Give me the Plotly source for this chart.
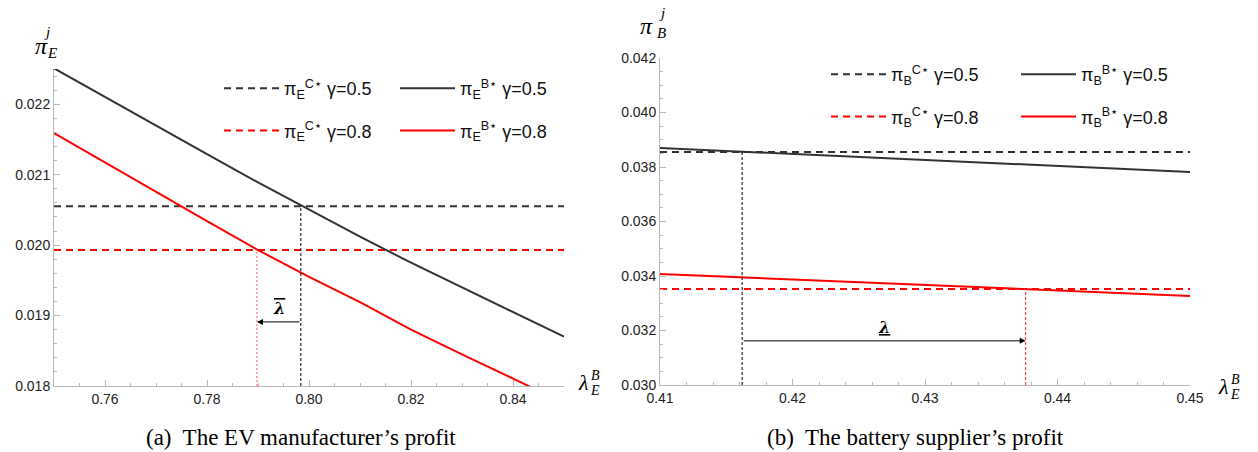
import plotly.graph_objects as go

# ---------------- data: (a) EV manufacturer's profit ----------------
lam_a = [0.75, 0.76, 0.77, 0.78, 0.79, 0.80, 0.81, 0.82, 0.83, 0.84, 0.85]
piE_B_g05 = [0.02251, 0.02210, 0.02169, 0.02129, 0.02089, 0.02050, 0.02012, 0.01975, 0.01940, 0.01905, 0.01870]
piE_B_g08 = [0.02159, 0.02117, 0.02075, 0.02034, 0.01993, 0.01955, 0.01919, 0.01880, 0.01845, 0.01810, 0.01776]
piE_C_g05 = 0.02055
piE_C_g08 = 0.01993
lam_bar_g05 = 0.7984
lam_bar_g08 = 0.7898
arrow_a_y = 0.01891

# ---------------- data: (b) battery supplier's profit ----------------
lam_b = [0.41, 0.42, 0.43, 0.44, 0.45]
piB_B_g05 = [0.03870, 0.03848, 0.03826, 0.03804, 0.03782]
piB_B_g08 = [0.03407, 0.03387, 0.03367, 0.03347, 0.03327]
piB_C_g05 = 0.03855
piB_C_g08 = 0.03352
lam_und_g05 = 0.4162
lam_und_g08 = 0.4376
arrow_b_y = 0.03162

# tick labels
xt_a = [0.76, 0.78, 0.80, 0.82, 0.84]
yt_a = [0.018, 0.019, 0.020, 0.021, 0.022]
xt_b = [0.41, 0.42, 0.43, 0.44, 0.45]
yt_b = [0.030, 0.032, 0.034, 0.036, 0.038, 0.040, 0.042]

BLACK = "#333333"
RED = "#ff0000"
W, H = 1258, 452

fig = go.Figure()

def px(v):
    return v / W

def py(v):
    return 1 - v / H

# ---- left panel ----
xr_a = [lam_a[0], lam_a[-1]]
fig.add_trace(go.Scatter(x=xr_a, y=[piE_C_g05] * 2, mode="lines",
                         line=dict(color=BLACK, width=2, dash="7px,5px"),
                         name="π<sub>E</sub><sup>C⋆</sup> γ=0.5", legend="legend", legendgroup="a1",
                         xaxis="x", yaxis="y"))
fig.add_trace(go.Scatter(x=xr_a, y=[piE_C_g08] * 2, mode="lines",
                         line=dict(color=RED, width=2, dash="7px,5px"),
                         name="π<sub>E</sub><sup>C⋆</sup> γ=0.8", legend="legend", legendgroup="a2",
                         xaxis="x", yaxis="y"))
fig.add_trace(go.Scatter(x=lam_a, y=piE_B_g05, mode="lines",
                         line=dict(color=BLACK, width=2),
                         name="π<sub>E</sub><sup>B⋆</sup> γ=0.5", legend="legend2", legendgroup="a3",
                         xaxis="x", yaxis="y"))
fig.add_trace(go.Scatter(x=lam_a, y=piE_B_g08, mode="lines",
                         line=dict(color=RED, width=2),
                         name="π<sub>E</sub><sup>B⋆</sup> γ=0.8", legend="legend2", legendgroup="a4",
                         xaxis="x", yaxis="y"))
fig.add_trace(go.Scatter(x=[lam_bar_g05] * 2, y=[yt_a[0], piE_C_g05], mode="lines",
                         line=dict(color="black", width=1, dash="3px,2px"), showlegend=False,
                         xaxis="x", yaxis="y"))
fig.add_trace(go.Scatter(x=[lam_bar_g08] * 2, y=[yt_a[0], piE_C_g08], mode="lines",
                         line=dict(color="#ff5555", width=1, dash="2px,2px"), showlegend=False,
                         xaxis="x", yaxis="y"))

# ---- right panel ----
xr_b = [lam_b[0], lam_b[-1]]
fig.add_trace(go.Scatter(x=xr_b, y=[piB_C_g05] * 2, mode="lines",
                         line=dict(color=BLACK, width=2, dash="7px,5px"),
                         name="π<sub>B</sub><sup>C⋆</sup> γ=0.5", legend="legend3", legendgroup="b1",
                         xaxis="x2", yaxis="y2"))
fig.add_trace(go.Scatter(x=xr_b, y=[piB_C_g08] * 2, mode="lines",
                         line=dict(color=RED, width=2, dash="7px,5px"),
                         name="π<sub>B</sub><sup>C⋆</sup> γ=0.8", legend="legend3", legendgroup="b2",
                         xaxis="x2", yaxis="y2"))
fig.add_trace(go.Scatter(x=lam_b, y=piB_B_g05, mode="lines",
                         line=dict(color=BLACK, width=2),
                         name="π<sub>B</sub><sup>B⋆</sup> γ=0.5", legend="legend4", legendgroup="b3",
                         xaxis="x2", yaxis="y2"))
fig.add_trace(go.Scatter(x=lam_b, y=piB_B_g08, mode="lines",
                         line=dict(color=RED, width=2),
                         name="π<sub>B</sub><sup>B⋆</sup> γ=0.8", legend="legend4", legendgroup="b4",
                         xaxis="x2", yaxis="y2"))
fig.add_trace(go.Scatter(x=[lam_und_g05] * 2, y=[yt_b[0], piB_C_g05], mode="lines",
                         line=dict(color="black", width=1, dash="3px,2px"), showlegend=False,
                         xaxis="x2", yaxis="y2"))
fig.add_trace(go.Scatter(x=[lam_und_g08] * 2, y=[yt_b[0], piB_C_g08], mode="lines",
                         line=dict(color="#ff2020", width=1, dash="3px,2px"), showlegend=False,
                         xaxis="x2", yaxis="y2"))

axis_common = dict(showgrid=False, zeroline=False, showline=True, linecolor="#b8b8b8", linewidth=1,
                   ticks="inside", ticklen=6, tickcolor="#b8b8b8", tickwidth=1, automargin=False,
                   tickfont=dict(family="Liberation Sans, Arial", size=14, color="#222"),
                   mirror=False)

fig.update_layout(
    width=W, height=H, autosize=False,
    margin=dict(l=0, r=0, t=0, b=0, pad=0),
    paper_bgcolor="white", plot_bgcolor="white",
    xaxis=dict(domain=[px(54), px(564)], range=[0.75, 0.85], tickvals=xt_a, tickformat=".2f",
               minor=dict(dtick=0.005, ticks="inside", ticklen=3, tickcolor="#b8b8b8"),
               anchor="y", **axis_common),
    yaxis=dict(domain=[py(386), py(69)], range=[0.018, 0.0225], tickvals=yt_a, tickformat=".3f",
               minor=dict(dtick=0.0002, ticks="inside", ticklen=3, tickcolor="#b8b8b8"),
               anchor="x", **axis_common),
    xaxis2=dict(domain=[px(660), px(1190)], range=[0.41, 0.45], tickvals=xt_b, tickformat=".2f",
                minor=dict(dtick=0.002, ticks="inside", ticklen=3, tickcolor="#b8b8b8"),
                anchor="y2", **axis_common),
    yaxis2=dict(domain=[py(385), py(58)], range=[0.030, 0.042], tickvals=yt_b, tickformat=".3f",
                minor=dict(dtick=0.0005, ticks="inside", ticklen=3, tickcolor="#b8b8b8"),
                anchor="x2", **axis_common),
    showlegend=True,
)

leg_common = dict(font=dict(family="Liberation Sans, Arial", size=18, color="#111"),
                  bgcolor="rgba(0,0,0,0)", tracegroupgap=16, itemwidth=55,
                  xanchor="left", yanchor="top", orientation="v")
fig.update_layout(
    legend=dict(x=px(219), y=py(70), **leg_common),
    legend2=dict(x=px(395), y=py(70), **leg_common),
    legend3=dict(x=px(826), y=py(56), **leg_common),
    legend4=dict(x=px(1016), y=py(56), **leg_common),
)

ann = []
# arrows
ann.append(dict(x=lam_bar_g08, y=arrow_a_y, ax=lam_bar_g05, ay=arrow_a_y, xref="x", yref="y",
                axref="x", ayref="y", showarrow=True, arrowhead=2, arrowsize=1.2, arrowwidth=1,
                arrowcolor="black", text=""))
ann.append(dict(x=(lam_bar_g05 + lam_bar_g08) / 2, y=arrow_a_y, xref="x", yref="y", yshift=13,
                xanchor="center", yanchor="middle",
                showarrow=False, text="<b><i><span style='text-decoration:overline'>λ</span></i></b>",
                font=dict(family="DejaVu Serif", size=16, color="black")))
ann.append(dict(x=lam_und_g08, y=arrow_b_y, ax=lam_und_g05, ay=arrow_b_y, xref="x2", yref="y2",
                axref="x2", ayref="y2", showarrow=True, arrowhead=2, arrowsize=1.2, arrowwidth=1,
                arrowcolor="black", text=""))
ann.append(dict(x=(lam_und_g05 + lam_und_g08) / 2, y=arrow_b_y, xref="x2", yref="y2", yshift=13,
                xanchor="center", yanchor="middle",
                showarrow=False, text="<b><i><u>λ</u></i></b>",
                font=dict(family="DejaVu Serif", size=16, color="black")))

serif = "Liberation Serif"
def label(xc, yc, txt, size, italic=True):
    t = f"<i>{txt}</i>" if italic else txt
    ann.append(dict(x=px(xc), y=py(yc), xref="paper", yref="paper", showarrow=False, text=t,
                    font=dict(family=serif, size=size, color="black"), xanchor="center", yanchor="middle"))

# y titles
label(41, 46, "π", 24)
label(47, 32, "j", 15)
label(52, 53, "E", 15)
label(646, 26, "π", 24)
label(662, 13, "j", 15)
label(661, 33, "B", 15)
# x titles
label(583, 382, "λ", 22)
label(595, 375, "B", 14)
label(595, 390, "E", 14)
label(1223, 386, "λ", 22)
label(1235, 379, "B", 14)
label(1235, 394, "E", 14)

# captions
ann.append(dict(x=px(301), y=py(437), xref="paper", yref="paper", showarrow=False,
                xanchor="center", yanchor="middle",
                text="(a)  The EV manufacturer’s profit",
                font=dict(family="Liberation Serif", size=23, color="black")))
ann.append(dict(x=px(915), y=py(437), xref="paper", yref="paper", showarrow=False,
                xanchor="center", yanchor="middle",
                text="(b)  The battery supplier’s profit",
                font=dict(family="Liberation Serif", size=23, color="black")))

fig.update_layout(annotations=ann)
fig.write_html("out.html", config={"displayModeBar": False},
               post_script="document.body.style.margin='0';document.body.style.overflow='hidden';")
